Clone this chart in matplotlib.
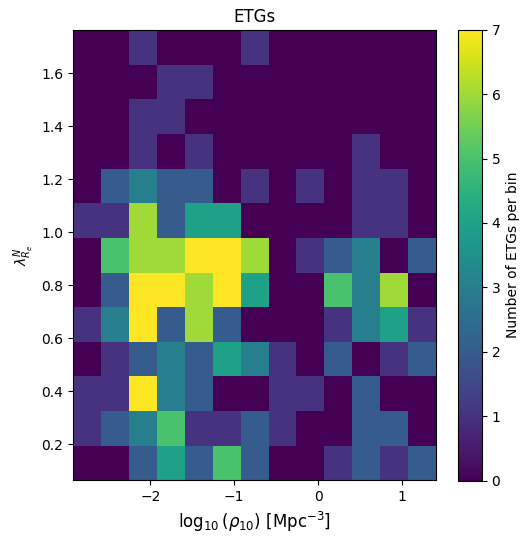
import numpy as np
import matplotlib
matplotlib.use('Agg')
import matplotlib.pyplot as plt

# Bin edges of the 2D histogram (log density vs lambda_Re^N)
X_MIN, X_MAX = -2.92, 1.405
Y_MIN, Y_MAX = 0.065, 1.763
N_BINS = 13

# ETG counts per bin, rows listed from the top (high lambda) to the bottom
counts_top_down = [
    [0, 0, 1, 0, 0, 0, 1, 0, 0, 0, 0, 0, 0],
    [0, 0, 0, 1, 1, 0, 0, 0, 0, 0, 0, 0, 0],
    [0, 0, 1, 1, 0, 0, 0, 0, 0, 0, 0, 0, 0],
    [0, 0, 1, 0, 1, 0, 0, 0, 0, 0, 1, 0, 0],
    [0, 2, 3, 2, 2, 0, 1, 0, 1, 0, 1, 1, 0],
    [1, 1, 6, 2, 4, 4, 0, 0, 0, 0, 1, 1, 0],
    [0, 5, 6, 6, 7, 7, 6, 0, 1, 2, 3, 0, 2],
    [0, 2, 7, 7, 6, 7, 4, 0, 0, 5, 3, 6, 0],
    [1, 3, 7, 2, 6, 2, 0, 0, 0, 1, 3, 4, 1],
    [0, 1, 2, 3, 2, 4, 3, 1, 0, 2, 0, 1, 2],
    [1, 1, 7, 3, 2, 0, 0, 1, 1, 0, 2, 0, 0],
    [1, 2, 3, 5, 1, 1, 2, 1, 0, 0, 2, 2, 0],
    [0, 0, 2, 4, 2, 5, 2, 0, 0, 1, 2, 1, 2],
]

x_edges = np.linspace(X_MIN, X_MAX, N_BINS + 1)
y_edges = np.linspace(Y_MIN, Y_MAX, N_BINS + 1)
counts = np.array(counts_top_down[::-1])

fig = plt.figure(figsize=(5.26, 5.39), dpi=100)
ax = fig.add_axes([0.139, 0.109, 0.690, 0.835])
cax = fig.add_axes([0.871, 0.108, 0.045, 0.837])

mesh = ax.pcolormesh(x_edges, y_edges, counts, cmap='viridis', vmin=0, vmax=7)
ax.set_xlim(X_MIN, X_MAX)
ax.set_ylim(Y_MIN, Y_MAX)
ax.set_xticks([-2, -1, 0, 1])
ax.set_yticks([0.2, 0.4, 0.6, 0.8, 1.0, 1.2, 1.4, 1.6])
ax.set_title('ETGs')
ax.set_xlabel(r'$\log_{10}(\rho_{10})$ [Mpc$^{-3}$]', fontsize=12)
ax.set_ylabel(r'$\lambda_{R_e}^N$')

cbar = fig.colorbar(mesh, cax=cax)
cbar.set_label('Number of ETGs per bin')

fig.savefig('out.png', dpi=100)
